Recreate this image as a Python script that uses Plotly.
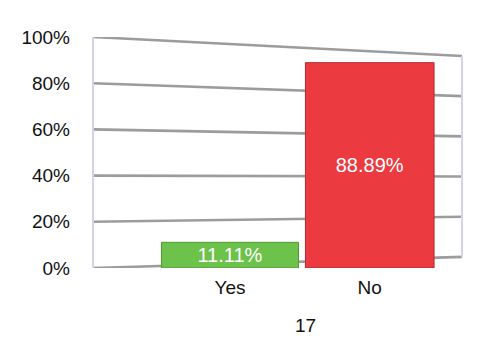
import plotly.graph_objects as go

categories = ["Yes", "No"]
values = [11.11, 88.89]
value_labels = ["11.11%", "88.89%"]
bar_colors = ["#6cc24a", "#ec3a41"]
tick_vals = [0, 20, 40, 60, 80, 100]
tick_text = ["0%", "20%", "40%", "60%", "80%", "100%"]
x_title = "17"

fig = go.Figure()
fig.add_trace(go.Bar(
    x=categories, y=values, text=value_labels,
    marker=dict(color=bar_colors, line=dict(color=["#4f9a33", "#b8282e"], width=1)),
    width=[0.98, 0.92],
    textposition="inside", insidetextanchor="middle", constraintext="none",
    textfont=dict(color="white", size=20, family="Liberation Sans, Arial"),
    cliponaxis=False,
))

# perspective-like slanted gridlines (right end lower / compressed)
shapes = []
for v in tick_vals:
    shapes.append(dict(type="line", xref="paper", yref="y", x0=0, x1=1,
                       y0=v, y1=4.8 + 0.87 * v, layer="below",
                       line=dict(color="#9c9c9c", width=2.6)))
shapes.append(dict(type="line", xref="paper", yref="y", x0=0, x1=0, y0=0, y1=100,
                   layer="below", line=dict(color="#d2d2ea", width=2)))
shapes.append(dict(type="line", xref="paper", yref="y", x0=1, x1=1, y0=4.8, y1=91.8,
                   layer="below", line=dict(color="#d2d2ea", width=2)))

fig.update_layout(
    width=500, height=360,
    margin=dict(l=93, r=38, t=37, b=92),
    paper_bgcolor="white", plot_bgcolor="white",
    showlegend=False,
    shapes=shapes,
    font=dict(family="Liberation Sans, Arial", size=19, color="#111"),
    xaxis=dict(type="category", range=[-0.98, 1.66], showgrid=False, zeroline=False,
               showline=False, ticks="", tickfont=dict(size=19), ticklabelstandoff=6),
    yaxis=dict(range=[0, 100], tickvals=tick_vals, ticktext=tick_text, showgrid=False,
               zeroline=False, showline=False, ticks="", ticklabelstandoff=22,
               tickfont=dict(size=19)),
    annotations=[dict(text=x_title, xref="paper", yref="paper", x=0.575, y=-0.25,
                      xanchor="center", yanchor="middle", showarrow=False,
                      font=dict(size=19))],
)

fig.write_html("out.html")
